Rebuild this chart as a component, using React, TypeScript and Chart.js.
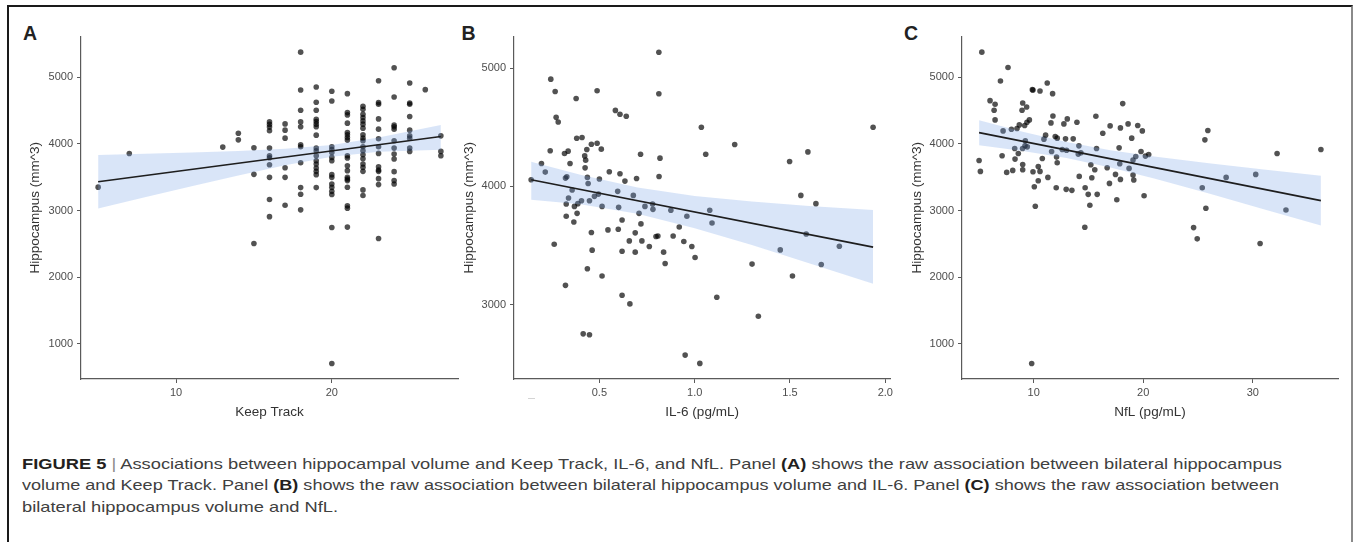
import React, { useEffect, useLayoutEffect, useRef } from "react";
import { Chart, registerables } from "chart.js";

Chart.register(...registerables);

const FONT = '"Liberation Sans", Arial, Helvetica, sans-serif';
const AXIS_COLOR = "#5a5a5a";
const TICK_COLOR = "#4d4d4d";
const TITLE_COLOR = "#333333";
const POINT_COLOR = "rgba(0,0,0,0.68)";
const BAND_COLOR = "rgba(120,160,230,0.28)";
const LINE_COLOR = "#1e1e1e";

// ---------- Panel A: Keep Track ----------
const keepTrackScores = [5, 7, 13, 14, 15, 16, 17, 18, 19, 20, 21, 22, 23, 24, 25, 26, 27];
const hippoByKeepTrack = [
  [3350],
  [3855],
  [3950],
  [4158, 4059],
  [3940, 3542, 2505],
  [4328, 4290, 4250, 4195, 3935, 3820, 3790, 3686, 3497, 3164, 2908],
  [4298, 4204, 4084, 3641, 3497, 3079],
  [5373, 4806, 4502, 4328, 4254, 3985, 3955, 3716, 3343, 3243, 3010],
  [4851, 4622, 4502, 4368, 4333, 4294, 4254, 4129, 3935, 3896, 3820, 3746, 3697, 3637, 3587, 3537, 3343],
  [4786, 4642, 3955, 3915, 3870, 3796, 3746, 3537, 3497, 3398, 3348, 3288, 3239, 2746, 708],
  [4751, 4467, 4433, 4309, 4169, 4134, 4094, 4055, 3820, 3786, 3671, 3597, 3497, 3473, 3448, 3348, 3070, 3035, 2751],
  [4562, 4518, 4443, 4393, 4343, 4294, 4234, 4134, 4084, 4045, 3955, 3896, 3836, 3776, 3697, 3647, 3587, 3309, 3224],
  [4945, 4617, 4592, 4373, 4219, 4075, 3955, 3856, 3656, 3607, 3587, 3477, 3388, 2581],
  [5139, 4701, 4279, 4254, 4219, 4045, 3935, 3846, 3771, 3582, 3448, 3398],
  [4910, 4612, 4592, 4408, 4204, 4119, 4084, 3935, 3886],
  [4811],
  [4119, 3886, 3820],
];
const fitXA = [5, 27];
const fitYA = [3431, 4109];
const bandXA = [5, 8, 11, 14, 17, 20, 23, 27];
const bandLoA = [3030, 3197, 3362, 3523, 3677, 3804, 3879, 3910];
const bandHiA = [3830, 3849, 3870, 3893, 3925, 3982, 4093, 4280];
const xTicksA = [10, 20];
const xTickLabelsA = ["10", "20"];
const yTicksA = [1000, 2000, 3000, 4000, 5000];

// ---------- Panel B: IL-6 ----------
const il6Values = [
  0.142, 0.196, 0.216, 0.245, 0.242, 0.268, 0.273, 0.284, 0.263, 0.317,
  0.322, 0.329, 0.326, 0.326, 0.322, 0.336, 0.338, 0.346, 0.357, 0.369,
  0.366, 0.378, 0.381, 0.383, 0.387, 0.409, 0.406, 0.415, 0.423, 0.425,
  0.428, 0.434, 0.437, 0.441, 0.437, 0.448, 0.448, 0.458, 0.458, 0.462,
  0.474, 0.488, 0.488, 0.495, 0.5, 0.51, 0.514, 0.514, 0.545, 0.552,
  0.584, 0.596, 0.599, 0.601, 0.608, 0.608, 0.619, 0.619, 0.619, 0.634,
  0.641, 0.657, 0.66, 0.678, 0.688, 0.688, 0.695, 0.708, 0.716, 0.718,
  0.723, 0.739, 0.762, 0.779, 0.781, 0.797, 0.807, 0.812, 0.812, 0.813,
  0.818, 0.837, 0.845, 0.875, 0.887, 0.919, 0.943, 0.95, 0.959, 0.985,
  1.002, 1.027, 1.035, 1.058, 1.079, 1.091, 1.116, 1.21, 1.301, 1.334,
  1.449, 1.498, 1.513, 1.557, 1.585, 1.594, 1.636, 1.664, 1.759, 1.936,
];
const hippoB = [
  4056, 4194, 4121, 4907, 4301, 4803, 4584, 4545, 3511, 4278,
  4070, 4081, 3851, 3747, 3163, 4298, 3902, 4194, 3969, 3831,
  3699, 4744, 4407, 3772, 3854, 4413, 3879, 2753, 4258, 4157,
  4222, 4312, 4076, 4025, 3303, 2745, 3879, 4357, 3610, 3461,
  3916, 4365, 4809, 3935, 4062, 4315, 3831, 3242, 3632, 4124,
  4643, 3958, 3638, 3823, 4610, 4107, 3716, 3452, 3079, 4045,
  4593, 3539, 3006, 3924, 3444, 3607, 4067, 3772, 4272, 3683,
  3539, 3831, 3492, 3851, 3806, 3576, 3581, 4784, 5135, 4084,
  4239, 3444, 3348, 3798, 3581, 3657, 3534, 2573, 3747, 3492,
  3399, 2503, 4500, 4272, 3798, 3691, 3062, 4354, 3343, 2902,
  3463, 4211, 3242, 3924, 3598, 4292, 3854, 3340, 3494, 4500,
];
const fitXB = [0.142, 1.936];
const fitYB = [4056, 3486];
const bandXB = [0.142, 0.4, 0.7, 1.0, 1.3, 1.6, 1.936];
const bandLoB = [3888, 3850, 3768, 3647, 3504, 3351, 3177];
const bandHiB = [4208, 4098, 3990, 3919, 3872, 3835, 3801];
const xTicksB = [0.5, 1.0, 1.5, 2.0];
const xTickLabelsB = ["0.5", "1.0", "1.5", "2.0"];
const yTicksB = [3000, 4000, 5000];

// ---------- Panel C: NfL ----------
const nflValues = [
  5.27, 7.66, 6.97, 9.88, 9.94, 10.58, 11.24, 11.73, 6.02, 6.48,
  6.39, 6.48, 9.0, 9.36, 8.94, 9.61, 9.39, 9.18, 8.69, 8.48,
  7.97, 7.21, 11.76, 11.58, 12.76, 13.07, 13.95, 11.09, 10.94, 11.97,
  12.15, 12.91, 13.61, 15.68, 16.31, 16.98, 18.13, 17.92, 18.62, 19.5,
  19.92, 18.95, 25.9, 25.63, 9.24, 9.21, 9.42, 8.27, 8.99, 8.6,
  8.3, 7.12, 9.0, 9.0, 8.09, 7.54, 5.02, 5.14, 9.94, 10.42,
  10.58, 10.06, 10.42, 10.15, 10.79, 11.3, 11.64, 12.09, 12.15, 12.06,
  12.61, 13.0, 12.97, 13.49, 14.13, 14.16, 14.07, 14.31, 14.7, 14.67,
  14.98, 15.13, 15.22, 15.58, 15.31, 15.74, 15.8, 16.71, 16.92, 17.47,
  17.59, 17.8, 17.86, 17.92, 18.71, 19.07, 19.07, 19.14, 19.32, 19.8,
  20.2, 20.5, 20.08, 24.6, 24.93, 25.39, 25.72, 27.57, 30.27, 30.67,
  32.22, 33.03, 36.22, 9.82,
];
const hippoC = [
  5373, 5144, 4940, 4811, 4806, 4791, 4910, 4751, 4646, 4592,
  4502, 4358, 4612, 4552, 4502, 4358, 4323, 4273, 4283, 4228,
  4218, 4193, 4417, 4313, 4298, 4373, 4323, 4129, 4069, 4109,
  4084, 4074, 4074, 4412, 4158, 4268, 4602, 4238, 4298, 4273,
  4193, 4084, 4198, 4059, 4044, 3969, 3954, 3929, 3929, 3855,
  3770, 3820, 3690, 3611, 3601, 3571, 3750, 3586, 3581, 3660,
  3586, 3357, 3446, 3063, 3780, 3496, 3885, 3800, 3715, 3342,
  3914, 3904, 3317, 3302, 3969, 3511, 3845, 3865, 3342, 2749,
  3242, 3078, 3685, 3611, 3491, 3929, 3242, 3640, 3406, 3541,
  3162, 3939, 3700, 3466, 3631, 3755, 3531, 3456, 3810, 3885,
  3815, 3840, 3222, 2744, 2575, 3342, 3033, 3496, 3541, 2505,
  3855, 3008, 3914, 707,
];
const fitXC = [5.02, 36.22];
const fitYC = [4168, 3147];
const bandXC = [5.02, 9, 13, 17, 21, 26, 31, 36.22];
const bandLoC = [3979, 3893, 3785, 3646, 3480, 3255, 3020, 2774];
const bandHiC = [4353, 4181, 4027, 3904, 3808, 3707, 3614, 3521];
const xTicksC = [10, 20, 30];
const xTickLabelsC = ["10", "20", "30"];
const yTicksC = [1000, 2000, 3000, 4000, 5000];

const yTitle = "Hippocampus (mm^3)";

type PanelProps = {
  left: number;
  top: number;
  width: number;
  height: number;
  yAxisWidth: number;
  xs: number[];
  ys: number[];
  fitX: number[];
  fitY: number[];
  bandX: number[];
  bandLo: number[];
  bandHi: number[];
  xMin: number;
  xMax: number;
  yMin: number;
  yMax: number;
  xTicks: number[];
  xTickLabels: string[];
  yTicks: number[];
  xTitle: string;
};

function Panel(p: PanelProps) {
  const ref = useRef<HTMLCanvasElement | null>(null);
  useEffect(() => {
    const canvas = ref.current;
    if (!canvas) return;
    const points = p.xs.map((x, i) => ({ x, y: p.ys[i] }));
    const lo = p.bandX.map((x, i) => ({ x, y: p.bandLo[i] }));
    const hi = p.bandX.map((x, i) => ({ x, y: p.bandHi[i] }));
    const fit = p.fitX.map((x, i) => ({ x, y: p.fitY[i] }));
    const tickFont = { family: FONT, size: 11, lineHeight: 1.2 };
    const titleFont = { family: FONT, size: 13.5, lineHeight: 1.2 };
    const chart = new Chart(canvas, {
      type: "scatter",
      data: {
        datasets: [
          {
            data: points,
            pointRadius: 2.8,
            pointHoverRadius: 2.8,
            pointBackgroundColor: POINT_COLOR,
            pointBorderColor: "rgba(0,0,0,0)",
            pointBorderWidth: 0,
            order: 3,
          },
          {
            data: lo,
            showLine: true,
            pointRadius: 0,
            borderColor: "rgba(0,0,0,0)",
            borderWidth: 1,
            fill: false,
            tension: 0,
            order: 2,
          },
          {
            data: hi,
            showLine: true,
            pointRadius: 0,
            borderColor: "rgba(0,0,0,0)",
            borderWidth: 1,
            backgroundColor: BAND_COLOR,
            fill: "-1",
            tension: 0,
            order: 2,
          },
          {
            data: fit,
            showLine: true,
            pointRadius: 0,
            borderColor: LINE_COLOR,
            borderWidth: 1.7,
            fill: false,
            order: 1,
          },
        ],
      } as any,
      options: {
        responsive: false,
        maintainAspectRatio: false,
        devicePixelRatio: 1,
        animation: false,
        events: [],
        layout: { padding: { top: 10, right: 5, left: 0, bottom: 0 } },
        plugins: {
          legend: { display: false },
          tooltip: { enabled: false },
          title: { display: false },
        },
        scales: {
          x: {
            type: "linear",
            min: p.xMin,
            max: p.xMax,
            afterBuildTicks: (s: any) => {
              s.ticks = p.xTicks.map((v) => ({ value: v }));
            },
            afterFit: (s: any) => {
              s.height = 45;
            },
            ticks: {
              callback: (_v: any, i: number) => p.xTickLabels[i],
              font: tickFont,
              color: TICK_COLOR,
              padding: 3,
              maxRotation: 0,
              autoSkip: false,
            },
            grid: {
              drawOnChartArea: false,
              drawTicks: true,
              tickLength: 4,
              color: AXIS_COLOR,
              lineWidth: 1,
            },
            border: { display: true, color: AXIS_COLOR, width: 1.2 },
            title: {
              display: true,
              text: p.xTitle,
              font: titleFont,
              color: TITLE_COLOR,
              padding: { top: 4, bottom: 4 },
            },
          },
          y: {
            type: "linear",
            min: p.yMin,
            max: p.yMax,
            afterBuildTicks: (s: any) => {
              s.ticks = p.yTicks.map((v) => ({ value: v }));
            },
            afterFit: (s: any) => {
              s.width = p.yAxisWidth;
            },
            ticks: {
              callback: (v: any) => String(v),
              font: tickFont,
              color: TICK_COLOR,
              padding: 4,
              autoSkip: false,
            },
            grid: {
              drawOnChartArea: false,
              drawTicks: true,
              tickLength: 4,
              color: AXIS_COLOR,
              lineWidth: 1,
            },
            border: { display: true, color: AXIS_COLOR, width: 1.2 },
            title: {
              display: true,
              text: yTitle,
              font: titleFont,
              color: TITLE_COLOR,
              padding: { top: 4, bottom: 4 },
            },
          },
        },
      } as any,
    });
    return () => chart.destroy();
  }, []);
  return (
    <canvas
      ref={ref}
      width={p.width}
      height={p.height}
      style={{
        position: "absolute",
        left: p.left,
        top: p.top,
        width: p.width,
        height: p.height,
      }}
    />
  );
}

// target pixel widths of the first two caption lines (as in the reference)
const CAPTION_LINE1_WIDTH = 1260;
const CAPTION_LINE2_WIDTH = 1257;

function Caption() {
  const l1 = useRef<HTMLDivElement | null>(null);
  const l2 = useRef<HTMLDivElement | null>(null);
  const l3 = useRef<HTMLDivElement | null>(null);
  useLayoutEffect(() => {
    if (!l1.current || !l2.current || !l3.current) return;
    const w1 = l1.current.getBoundingClientRect().width;
    const w2 = l2.current.getBoundingClientRect().width;
    if (w1 <= 0 || w2 <= 0) return;
    const s1 = CAPTION_LINE1_WIDTH / w1;
    const s2 = CAPTION_LINE2_WIDTH / w2;
    l1.current.style.transform = `scaleX(${s1})`;
    l2.current.style.transform = `scaleX(${s2})`;
    l3.current.style.transform = `scaleX(${s1})`;
  }, []);
  const bold: React.CSSProperties = { fontWeight: 700, color: "#231f20" };
  const lineStyle: React.CSSProperties = {
    display: "inline-block",
    whiteSpace: "nowrap",
    transformOrigin: "0 0",
    height: "21.3px",
  };
  return (
    <div
      style={{
        position: "absolute",
        left: 22,
        top: 453,
        fontFamily: FONT,
        fontSize: 15,
        lineHeight: "21.3px",
        color: "#404040",
        whiteSpace: "nowrap",
      }}
    >
      <div ref={l1} style={lineStyle}>
        <span style={bold}>FIGURE 5</span>
        <span style={{ color: "#8a8a8a" }}> | </span>
        Associations between hippocampal volume and Keep Track, IL-6, and NfL. Panel{" "}
        <span style={bold}>(A)</span> shows the raw association between bilateral hippocampus
      </div>
      <br />
      <div ref={l2} style={lineStyle}>
        volume and Keep Track. Panel <span style={bold}>(B)</span> shows the raw association
        between bilateral hippocampus volume and IL-6. Panel <span style={bold}>(C)</span> shows
        the raw association between
      </div>
      <br />
      <div ref={l3} style={lineStyle}>
        bilateral hippocampus volume and NfL.
      </div>
    </div>
  );
}

const labelStyle: React.CSSProperties = {
  position: "absolute",
  fontFamily: FONT,
  fontWeight: 700,
  fontSize: 19.5,
  lineHeight: 1,
  color: "#222",
};

export default function App() {
  const xsA: number[] = [];
  const ysA: number[] = [];
  keepTrackScores.forEach((s, i) => {
    hippoByKeepTrack[i].forEach((v) => {
      xsA.push(s);
      ysA.push(v);
    });
  });

  return (
    <div
      style={{
        position: "absolute",
        left: 0,
        top: 0,
        width: 1356,
        height: 542,
        overflow: "hidden",
        background: "#fff",
      }}
    >
      <div
        style={{
          position: "absolute",
          left: 7,
          top: 5,
          width: 1346,
          height: 600,
          boxSizing: "border-box",
          borderTop: "2px solid #1a1a1a",
          borderLeft: "2px solid #1a1a1a",
          borderRight: "2px solid #8a8a8a",
        }}
      />
      <div style={{ ...labelStyle, left: 23, top: 24 }}>A</div>
      <div style={{ ...labelStyle, left: 461.6, top: 23.5 }}>B</div>
      <div style={{ ...labelStyle, left: 904, top: 23.5 }}>C</div>

      <Panel
        left={23}
        top={26}
        width={440}
        height={398}
        yAxisWidth={58}
        xs={xsA}
        ys={ysA}
        fitX={fitXA}
        fitY={fitYA}
        bandX={bandXA}
        bandLo={bandLoA}
        bandHi={bandHiA}
        xMin={3.9}
        xMax={28.1}
        yMin={475}
        yMax={5606}
        xTicks={xTicksA}
        xTickLabels={xTickLabelsA}
        yTicks={yTicksA}
        xTitle="Keep Track"
      />
      <Panel
        left={457}
        top={26}
        width={439}
        height={398}
        yAxisWidth={57}
        xs={il6Values}
        ys={hippoB}
        fitX={fitXB}
        fitY={fitYB}
        bandX={bandXB}
        bandLo={bandLoB}
        bandHi={bandHiB}
        xMin={0.052}
        xMax={2.026}
        yMin={2371}
        yMax={5267}
        xTicks={xTicksB}
        xTickLabels={xTickLabelsB}
        yTicks={yTicksB}
        xTitle="IL-6 (pg/mL)"
      />
      <div
        style={{
          position: "absolute",
          left: 528,
          top: 398,
          width: 7,
          height: 1,
          background: "#d4d4d4",
        }}
      />
      <Panel
        left={905}
        top={26}
        width={438}
        height={398}
        yAxisWidth={57}
        xs={nflValues}
        ys={hippoC}
        fitX={fitXC}
        fitY={fitYC}
        bandX={bandXC}
        bandLo={bandLoC}
        bandHi={bandHiC}
        xMin={3.46}
        xMax={37.78}
        yMin={475}
        yMax={5606}
        xTicks={xTicksC}
        xTickLabels={xTickLabelsC}
        yTicks={yTicksC}
        xTitle="NfL (pg/mL)"
      />
      <Caption />
    </div>
  );
}
